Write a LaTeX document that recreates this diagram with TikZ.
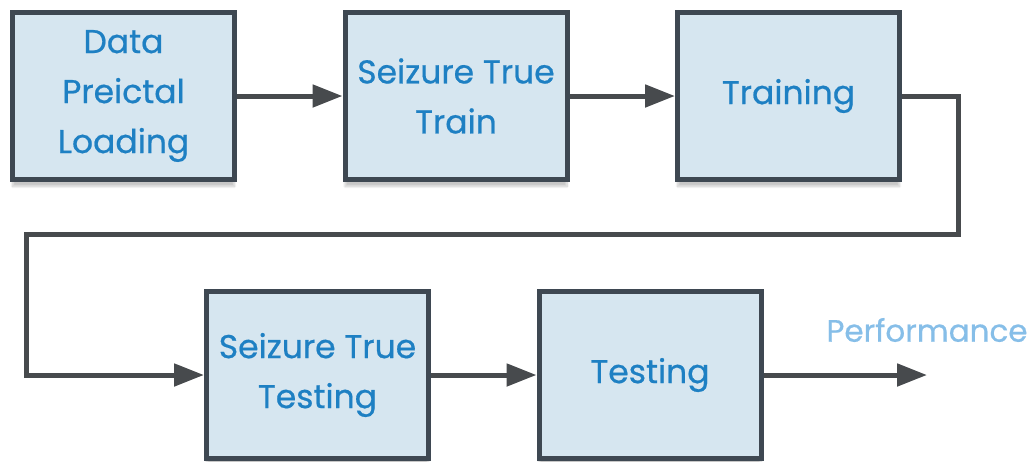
\documentclass[tikz,border=0pt]{standalone}
\usepackage{fontspec}
\setmainfont{Poppins}[FakeBold=0.6]
\usetikzlibrary{arrows.meta,shadows.blur}
\definecolor{boxfill}{HTML}{D6E6F0}
\definecolor{boxline}{HTML}{3E4852}
\definecolor{boxtext}{HTML}{1E80C3}
\definecolor{wire}{HTML}{474A4D}
\definecolor{outtext}{HTML}{86BEE8}
\begin{document}
\begin{tikzpicture}[x=1pt,y=-1pt,
  stage/.style={draw=boxline, line width=5pt, fill=boxfill,
    minimum width=222pt, minimum height=167pt, inner sep=0pt,
    text=boxtext, align=center,
    font=\fontsize{33}{50}\selectfont,
    blur shadow={shadow xshift=0pt, shadow yshift=-7pt, shadow blur steps=10, shadow opacity=22}},
  flow/.style={draw=wire, line width=5pt,
    -{Triangle[length=30pt,width=22pt]}}]
  \useasboundingbox (0,0) rectangle (1032,461);
  \node[stage] (load) at (123.5,96) {Data\\Preictal\\Loading};
  \node[stage] (train) at (456,96) {Seizure True\\Train};
  \node[stage] (fit) at (788.5,96) {Training};
  \node[stage] (test) at (317.5,375) {Seizure True\\Testing};
  \node[stage] (eval) at (650,375) {Testing};
  \coordinate (out) at (927,375);
  \node[text=outtext, font=\fontsize{31}{34}\selectfont] (perf) at (927,330) {Performance};
  \draw[flow] (load) -- (train);
  \draw[flow] (train) -- (fit);
  \draw[flow] (fit.east) -- ++(56,0) |- (26,234) |- (test.west);
  \draw[flow] (test) -- (eval);
  \draw[flow] (eval) -- (out);
\end{tikzpicture}
\end{document}
